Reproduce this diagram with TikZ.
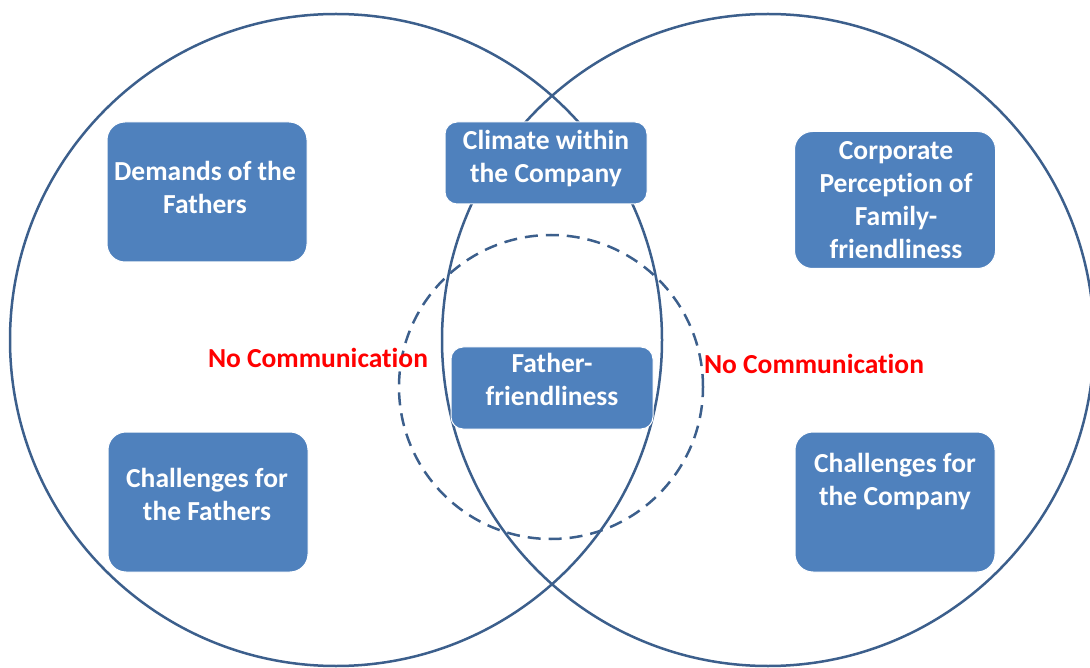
\documentclass[tikz,border=0pt]{standalone}
\usepackage{fontspec}
\setmainfont{Carlito}[Ligatures=NoCommon]
\usetikzlibrary{calc}
\definecolor{boxblue}{HTML}{4F81BD}
\definecolor{ringblue}{HTML}{3C5F8C}
\definecolor{noteRed}{HTML}{FF0000}

\begin{document}
\begin{tikzpicture}[x=1pt, y=-1pt,
    ring/.style={draw=ringblue, line width=2.5pt},
    block/.style={fill=boxblue, draw=white, line width=1pt, rounded corners=18pt},
    blocktext/.style={text=white, font=\fontsize{27.5}{33}\selectfont\bfseries, align=center},
    nocomm/.style={text=noteRed, font=\fontsize{27.5}{33}\selectfont\bfseries}]

    \useasboundingbox (0,0) rectangle (1090,668);

    % 1. Define Coordinates
    \coordinate (L) at (336,340);
    \coordinate (R) at (768,340);
    \coordinate (C) at (551,387);

    % 2. Draw the two big circles and the dashed one
    \draw[ring] (L) circle (326pt);
    \draw[ring] (R) circle (326pt);
    \draw[ring, dash pattern=on 13pt off 8pt] (C) circle (152pt);

    % 3. The boxes
    \node[block, minimum width=200pt, minimum height=140pt] (demands) at (207,192) {};
    \node[block, rounded corners=12pt, minimum width=202pt, minimum height=82pt] (climate) at (546,163) {};
    \node[block, minimum width=201pt, minimum height=137pt] (corporate) at (895,200) {};
    \node[block, rounded corners=12pt, minimum width=202pt, minimum height=82pt] (father) at (552,388) {};
    \node[block, minimum width=200pt, minimum height=140pt] (chFathers) at (208,502) {};
    \node[block, minimum width=200pt, minimum height=140pt] (chCompany) at (895,502) {};

    % 4. Box texts
    \node[blocktext] (demandsText) at (205,187) {Demands of the\\Fathers};
    \node[blocktext] (climateText) at (546,159) {Climate within\\the Company};
    \node[blocktext] (corporateText) at (896,200) {Corporate\\Perception of\\Family-\\friendliness};
    \node[blocktext] (fatherText) at (552,379) {Father-\\friendliness};
    \node[blocktext] (chFathersText) at (207,494) {Challenges for\\the Fathers};
    \node[blocktext] (chCompanyText) at (895,482) {Challenges for\\the Company};

    % 5. No communication labels
    \node[nocomm] (noCommLeft) at (318,358) {No Communication};
    \node[nocomm] (noCommRight) at (814,364) {No Communication};

\end{tikzpicture}
\end{document}
